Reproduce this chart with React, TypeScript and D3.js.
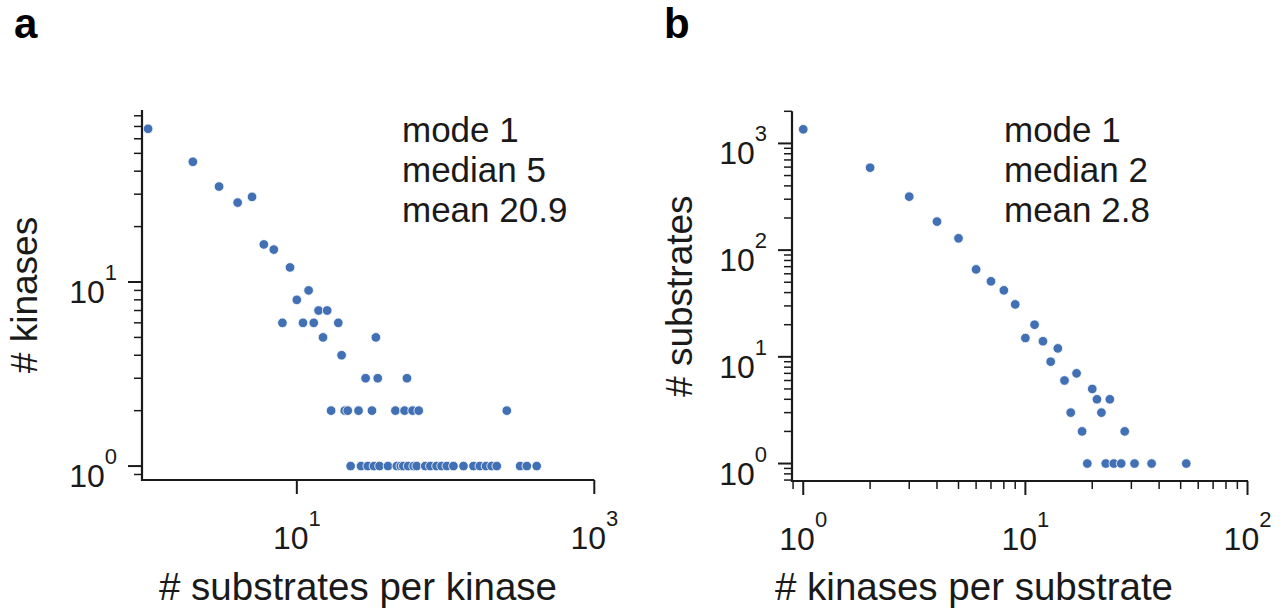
import React from "react";
import * as d3 from "d3";

// ---------- data ----------
// Panel a: number of substrates per kinase (x) vs number of kinases (y)
const substratesPerKinase = [
  1, 2, 3, 4, 5, 6, 7, 9, 12, 10, 14, 16, 8, 11, 13, 19, 15, 34, 20, 29, 35, 55,
  17, 21, 22, 26, 32, 46, 53, 60, 66, 258,
  23, 27, 30, 33, 36, 41, 47, 50, 52, 56, 61, 64, 73, 79, 87, 94, 102, 113, 132,
  154, 170, 187, 204, 221, 317, 352, 410,
];
const kinaseCounts = [
  68, 45, 33, 27, 29, 16, 15, 12, 9, 8, 7, 7, 6, 6, 6, 6, 5, 5, 4, 3, 3, 3,
  2, 2, 2, 2, 2, 2, 2, 2, 2, 2,
  1, 1, 1, 1, 1, 1, 1, 1, 1, 1, 1, 1, 1, 1, 1, 1, 1, 1, 1,
  1, 1, 1, 1, 1, 1, 1, 1,
];

// Panel b: number of kinases per substrate (x) vs number of substrates (y)
const kinasesPerSubstrate = [
  1, 2, 3, 4, 5, 6, 7, 8, 9, 10, 11, 12, 13, 14, 15, 16, 17, 18, 19, 20, 21, 22,
  23, 24, 25, 27, 28, 31, 37, 53,
];
const substrateCounts = [
  1356, 592, 317, 185, 129, 66, 51, 42, 31, 15, 20, 14, 9, 12, 6, 3, 7, 2, 1, 5,
  4, 3, 1, 4, 1, 1, 2, 1, 1, 1,
];

const statsA = ["mode 1", "median 5", "mean 20.9"];
const statsB = ["mode 1", "median 2", "mean 2.8"];

const aXMajor = [10, 1000];
const aYMajor = [1, 10];
const bXMajor = [1, 10, 100];
const bYMajor = [1, 10, 100, 1000];

// ---------- styling / layout ----------
const W = 1287;
const H = 609;
const FONT = "'Liberation Sans', Arial, Helvetica, sans-serif";
const DOT = "#4170b4";
const INK = "#1a1a1a";

type Layout = {
  left: number;
  right: number;
  top: number;
  bottom: number;
  xDomain: [number, number];
  yDomain: [number, number];
  annX: number;
  letterX: number;
  yLabelX: number;
  xLabelCX: number;
};

const layoutA: Layout = {
  left: 142,
  right: 594.3,
  top: 110,
  bottom: 480,
  xDomain: [0.91, 1000],
  yDomain: [0.84, 86],
  annX: 402,
  letterX: 14,
  yLabelX: 37,
  xLabelCX: 358,
};
const layoutB: Layout = {
  left: 792,
  right: 1248,
  top: 111.3,
  bottom: 481,
  xDomain: [0.89, 100.5],
  yDomain: [0.686, 2000],
  annX: 1004,
  letterX: 664,
  yLabelX: 692,
  xLabelCX: 974,
};

const isPow10 = (t: number) =>
  Math.abs(Math.log10(t) - Math.round(Math.log10(t))) < 1e-9;

function PowLabel({ t, ...rest }: any) {
  const e = Math.round(Math.log10(t));
  return (
    <text {...rest} fontFamily={FONT} fill={INK} fontSize={32}>
      <tspan>10</tspan>
      <tspan dy={-23} fontSize={22}>
        {e}
      </tspan>
    </text>
  );
}

function Panel(props: {
  L: Layout;
  xs: number[];
  ys: number[];
  xMajor: number[];
  yMajor: number[];
  xMinorOn: boolean;
  stats: string[];
  xLabel: string;
  yLabel: string;
  letter: string;
}) {
  const { L, xs, ys, xMajor, yMajor, xMinorOn, stats, xLabel, yLabel, letter } =
    props;
  const x = d3.scaleLog().domain(L.xDomain).range([L.left, L.right]);
  const y = d3.scaleLog().domain(L.yDomain).range([L.bottom, L.top]);
  const yMinor = y.ticks().filter((t) => !isPow10(t));
  const xMinor = xMinorOn ? x.ticks().filter((t) => !isPow10(t)) : [];
  const majLen = 14;
  const minLen = 8;
  return (
    <g>
      <text
        x={L.letterX}
        y={38}
        fontFamily={FONT}
        fontWeight="bold"
        fontSize={42}
        fill="#000"
      >
        {letter}
      </text>
      {/* points */}
      {xs.map((v, i) => (
        <circle
          key={i}
          cx={x(v)}
          cy={y(ys[i])}
          r={4.8}
          fill={DOT}
          stroke="#fff"
          strokeWidth={0.8}
        />
      ))}
      {/* spines */}
      <line
        x1={L.left}
        x2={L.left}
        y1={L.top}
        y2={L.bottom + 1}
        stroke={INK}
        strokeWidth={2.2}
      />
      <line
        x1={L.left - 1}
        x2={L.right}
        y1={L.bottom}
        y2={L.bottom}
        stroke={INK}
        strokeWidth={2.2}
      />
      {/* y ticks */}
      {yMinor.map((t, i) => (
        <line
          key={"ym" + i}
          x1={L.left - minLen}
          x2={L.left}
          y1={y(t)}
          y2={y(t)}
          stroke={INK}
          strokeWidth={1.5}
        />
      ))}
      {yMajor.map((t, i) => (
        <g key={"yM" + i}>
          <line
            x1={L.left - majLen}
            x2={L.left}
            y1={y(t)}
            y2={y(t)}
            stroke={INK}
            strokeWidth={2}
          />
          <PowLabel t={t} x={L.left - 25} y={y(t) + 21} textAnchor="end" />
        </g>
      ))}
      {/* x ticks */}
      {xMinor.map((t, i) => (
        <line
          key={"xm" + i}
          x1={x(t)}
          x2={x(t)}
          y1={L.bottom}
          y2={L.bottom + minLen}
          stroke={INK}
          strokeWidth={1.5}
        />
      ))}
      {xMajor.map((t, i) => (
        <g key={"xM" + i}>
          <line
            x1={x(t)}
            x2={x(t)}
            y1={L.bottom}
            y2={L.bottom + majLen}
            stroke={INK}
            strokeWidth={2}
          />
          <PowLabel t={t} x={x(t)} y={L.bottom + 69} textAnchor="middle" />
        </g>
      ))}
      {/* axis labels */}
      <text
        x={L.xLabelCX}
        y={600}
        textAnchor="middle"
        fontFamily={FONT}
        fontSize={38.5}
        fill={INK}
      >
        {xLabel}
      </text>
      <text
        transform={`translate(${L.yLabelX},${(L.top + L.bottom) / 2}) rotate(-90)`}
        textAnchor="middle"
        fontFamily={FONT}
        fontSize={37}
        fill={INK}
      >
        {yLabel}
      </text>
      {/* stats annotation */}
      {stats.map((s, i) => (
        <text
          key={"s" + i}
          x={L.annX}
          y={142 + i * 40}
          fontFamily={FONT}
          fontSize={35}
          fill={INK}
        >
          {s}
        </text>
      ))}
    </g>
  );
}

export default function App() {
  return (
    <svg
      width={W}
      height={H}
      viewBox={`0 0 ${W} ${H}`}
      style={{ position: "absolute", left: 0, top: 0, background: "#fff" }}
    >
      <rect width={W} height={H} fill="#fff" />
      <Panel
        L={layoutA}
        xs={substratesPerKinase}
        ys={kinaseCounts}
        xMajor={aXMajor}
        yMajor={aYMajor}
        xMinorOn={false}
        stats={statsA}
        xLabel="# substrates per kinase"
        yLabel="# kinases"
        letter="a"
      />
      <Panel
        L={layoutB}
        xs={kinasesPerSubstrate}
        ys={substrateCounts}
        xMajor={bXMajor}
        yMajor={bYMajor}
        xMinorOn={true}
        stats={statsB}
        xLabel="# kinases per substrate"
        yLabel="# substrates"
        letter="b"
      />
    </svg>
  );
}
